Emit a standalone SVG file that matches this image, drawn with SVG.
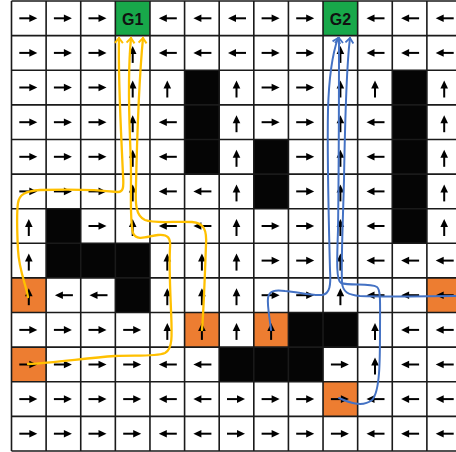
<svg xmlns="http://www.w3.org/2000/svg" xmlns:xlink="http://www.w3.org/1999/xlink" width="456" height="452" viewBox="0 0 456 452">
<style>
.ar line{stroke:#000;stroke-width:2}
.ar polygon{fill:#000}
.blk{fill:#050505}
.org{fill:#ED7D31}
.grn{fill:#18A84A}
.grid{stroke:#1a1a1a;stroke-width:1.6;fill:none}
.lbl{font-family:"Liberation Sans",Arial,sans-serif;font-weight:bold;font-size:16px;fill:#111;text-anchor:middle}
.py{fill:none;stroke:#FFC000;stroke-width:2.3;stroke-linecap:round}
.pb{fill:none;stroke:#4472C4;stroke-width:2;stroke-linecap:round}
</style>
<defs>
<g id="R" class="ar"><line x1="-9.5" y1="0" x2="1.5" y2="0"/><polygon points="8.5,0 0.5,-3.8 0.5,3.8"/></g>
<g id="L" class="ar"><line x1="9.5" y1="0" x2="-1.5" y2="0"/><polygon points="-8.5,0 -0.5,-3.8 -0.5,3.8"/></g>
<g id="U" class="ar"><line x1="0" y1="10" x2="0" y2="0"/><polygon points="0,-7 -3.8,1 3.8,1"/></g>
<marker id="my" viewBox="-1 -5 8 10" markerWidth="8" markerHeight="10" refX="5" refY="0" orient="auto" markerUnits="userSpaceOnUse"><path d="M0,-4 L5,0 L0,4" fill="none" stroke="#FFC000" stroke-width="2"/></marker>
<marker id="mb" viewBox="-1 -5 8 10" markerWidth="8" markerHeight="10" refX="5" refY="0" orient="auto" markerUnits="userSpaceOnUse"><path d="M0,-4 L5,0 L0,4" fill="none" stroke="#4472C4" stroke-width="1.8"/></marker>
</defs>
<rect x="0" y="0" width="456" height="452" fill="#fff"/>
<g id="obstacles">
<rect class="blk" x="184.58" y="70.23" width="34.62" height="103.85"/>
<rect class="blk" x="392.27" y="70.23" width="34.62" height="173.08"/>
<rect class="blk" x="253.81" y="139.46" width="34.62" height="69.23"/>
<rect class="blk" x="46.12" y="208.69" width="34.62" height="69.23"/>
<rect class="blk" x="80.73" y="243.31" width="69.23" height="34.62"/>
<rect class="blk" x="115.35" y="277.92" width="34.62" height="34.62"/>
<rect class="blk" x="288.42" y="312.54" width="69.23" height="34.62"/>
<rect class="blk" x="219.19" y="347.15" width="103.85" height="34.62"/>
</g>
<g id="starts">
<rect class="org" x="11.5" y="277.92" width="34.62" height="34.62"/>
<rect class="org" x="426.88" y="277.92" width="34.62" height="34.62"/>
<rect class="org" x="184.58" y="312.54" width="34.62" height="34.62"/>
<rect class="org" x="253.81" y="312.54" width="34.62" height="34.62"/>
<rect class="org" x="11.5" y="347.15" width="34.62" height="34.62"/>
<rect class="org" x="323.04" y="381.77" width="34.62" height="34.62"/>
</g>
<g id="G1"><rect class="grn" x="115.35" y="1" width="34.62" height="34.62"/></g>
<g id="G2"><rect class="grn" x="323.04" y="1" width="34.62" height="34.62"/></g>
<path class="grid" d="M11.5,1V451M46.12,1V451M80.73,1V451M115.35,1V451M149.96,1V451M184.58,1V451M219.19,1V451M253.81,1V451M288.42,1V451M323.04,1V451M357.65,1V451M392.27,1V451M426.88,1V451
M11.5,1H456M11.5,35.62H456M11.5,70.23H456M11.5,104.85H456M11.5,139.46H456M11.5,174.08H456M11.5,208.69H456M11.5,243.31H456M11.5,277.92H456M11.5,312.54H456M11.5,347.15H456M11.5,381.77H456M11.5,416.38H456M11.5,451H456"/>
<text class="lbl" x="132.7" y="24.5">G1</text>
<text class="lbl" x="340.4" y="24.5">G2</text>
<g id="policy">
<!-- r0 -->
<use href="#R" x="28.8" y="18.3"/><use href="#R" x="63.4" y="18.3"/><use href="#R" x="98" y="18.3"/>
<use href="#L" x="167.3" y="18.3"/><use href="#L" x="201.9" y="18.3"/><use href="#L" x="236.5" y="18.3"/>
<use href="#R" x="271.1" y="18.3"/><use href="#R" x="305.7" y="18.3"/>
<use href="#L" x="375" y="18.3"/><use href="#L" x="409.6" y="18.3"/><use href="#L" x="444.2" y="18.3"/>
<!-- r1 -->
<use href="#R" x="28.8" y="52.9"/><use href="#R" x="63.4" y="52.9"/><use href="#R" x="98" y="52.9"/><use href="#U" x="132.7" y="52.9"/>
<use href="#L" x="167.3" y="52.9"/><use href="#L" x="201.9" y="52.9"/><use href="#L" x="236.5" y="52.9"/>
<use href="#R" x="271.1" y="52.9"/><use href="#R" x="305.7" y="52.9"/><use href="#U" x="340.4" y="52.9"/>
<use href="#L" x="375" y="52.9"/><use href="#L" x="409.6" y="52.9"/><use href="#L" x="444.2" y="52.9"/>
<!-- r2 -->
<use href="#R" x="28.8" y="87.5"/><use href="#R" x="63.4" y="87.5"/><use href="#R" x="98" y="87.5"/><use href="#U" x="132.7" y="87.5"/>
<use href="#U" x="167.3" y="87.5"/><use href="#U" x="236.5" y="87.5"/>
<use href="#R" x="271.1" y="87.5"/><use href="#R" x="305.7" y="87.5"/><use href="#U" x="340.4" y="87.5"/>
<use href="#U" x="375" y="87.5"/><use href="#U" x="444.2" y="87.5"/>
<!-- r3 -->
<use href="#R" x="28.8" y="122.2"/><use href="#R" x="63.4" y="122.2"/><use href="#R" x="98" y="122.2"/><use href="#U" x="132.7" y="122.2"/>
<use href="#L" x="167.3" y="122.2"/><use href="#U" x="236.5" y="122.2"/>
<use href="#R" x="271.1" y="122.2"/><use href="#R" x="305.7" y="122.2"/><use href="#U" x="340.4" y="122.2"/>
<use href="#L" x="375" y="122.2"/><use href="#U" x="444.2" y="122.2"/>
<!-- r4 -->
<use href="#R" x="28.8" y="156.8"/><use href="#R" x="63.4" y="156.8"/><use href="#R" x="98" y="156.8"/><use href="#U" x="132.7" y="156.8"/>
<use href="#L" x="167.3" y="156.8"/><use href="#U" x="236.5" y="156.8"/>
<use href="#R" x="305.7" y="156.8"/><use href="#U" x="340.4" y="156.8"/>
<use href="#L" x="375" y="156.8"/><use href="#U" x="444.2" y="156.8"/>
<!-- r5 -->
<use href="#R" x="28.8" y="191.4"/><use href="#R" x="63.4" y="191.4"/><use href="#R" x="98" y="191.4"/><use href="#U" x="132.7" y="191.4"/>
<use href="#L" x="167.3" y="191.4"/><use href="#L" x="201.9" y="191.4"/><use href="#U" x="236.5" y="191.4"/>
<use href="#R" x="305.7" y="191.4"/><use href="#U" x="340.4" y="191.4"/>
<use href="#L" x="375" y="191.4"/><use href="#U" x="444.2" y="191.4"/>
<!-- r6 -->
<use href="#U" x="28.8" y="226"/><use href="#R" x="98" y="226"/><use href="#U" x="132.7" y="226"/>
<use href="#L" x="167.3" y="226"/><use href="#L" x="201.9" y="226"/><use href="#U" x="236.5" y="226"/>
<use href="#R" x="271.1" y="226"/><use href="#R" x="305.7" y="226"/><use href="#U" x="340.4" y="226"/>
<use href="#L" x="375" y="226"/><use href="#U" x="444.2" y="226"/>
<!-- r7 -->
<use href="#U" x="28.8" y="260.6"/>
<use href="#U" x="167.3" y="260.6"/><use href="#U" x="201.9" y="260.6"/><use href="#U" x="236.5" y="260.6"/>
<use href="#R" x="271.1" y="260.6"/><use href="#R" x="305.7" y="260.6"/><use href="#U" x="340.4" y="260.6"/>
<use href="#L" x="375" y="260.6"/><use href="#L" x="409.6" y="260.6"/><use href="#L" x="444.2" y="260.6"/>
<!-- r8 -->
<use href="#U" x="28.8" y="295.2"/><use href="#L" x="63.4" y="295.2"/><use href="#L" x="98" y="295.2"/>
<use href="#U" x="167.3" y="295.2"/><use href="#U" x="201.9" y="295.2"/><use href="#U" x="236.5" y="295.2"/>
<use href="#R" x="271.1" y="295.2"/><use href="#R" x="305.7" y="295.2"/><use href="#U" x="340.4" y="295.2"/>
<use href="#L" x="375" y="295.2"/><use href="#L" x="409.6" y="295.2"/><use href="#L" x="444.2" y="295.2"/>
<!-- r9 -->
<use href="#R" x="28.8" y="329.9"/><use href="#R" x="63.4" y="329.9"/><use href="#R" x="98" y="329.9"/><use href="#R" x="132.7" y="329.9"/>
<use href="#U" x="167.3" y="329.9"/><use href="#U" x="201.9" y="329.9"/><use href="#U" x="236.5" y="329.9"/><use href="#U" x="271.1" y="329.9"/>
<use href="#U" x="375" y="329.9"/><use href="#L" x="409.6" y="329.9"/><use href="#L" x="444.2" y="329.9"/>
<!-- r10 -->
<use href="#R" x="28.8" y="364.5"/><use href="#R" x="63.4" y="364.5"/><use href="#R" x="98" y="364.5"/><use href="#R" x="132.7" y="364.5"/>
<use href="#L" x="167.3" y="364.5"/><use href="#L" x="201.9" y="364.5"/>
<use href="#R" x="340.4" y="364.5"/><use href="#U" x="375" y="364.5"/><use href="#L" x="409.6" y="364.5"/><use href="#L" x="444.2" y="364.5"/>
<!-- r11 -->
<use href="#R" x="28.8" y="399.1"/><use href="#R" x="63.4" y="399.1"/><use href="#R" x="98" y="399.1"/><use href="#R" x="132.7" y="399.1"/>
<use href="#L" x="167.3" y="399.1"/><use href="#L" x="201.9" y="399.1"/>
<use href="#R" x="236.5" y="399.1"/><use href="#R" x="271.1" y="399.1"/><use href="#R" x="305.7" y="399.1"/><use href="#R" x="340.4" y="399.1"/>
<use href="#L" x="375" y="399.1"/><use href="#L" x="409.6" y="399.1"/><use href="#L" x="444.2" y="399.1"/>
<!-- r12 -->
<use href="#R" x="28.8" y="433.7"/><use href="#R" x="63.4" y="433.7"/><use href="#R" x="98" y="433.7"/><use href="#R" x="132.7" y="433.7"/>
<use href="#L" x="167.3" y="433.7"/><use href="#L" x="201.9" y="433.7"/>
<use href="#R" x="236.5" y="433.7"/><use href="#R" x="271.1" y="433.7"/><use href="#R" x="305.7" y="433.7"/><use href="#R" x="340.4" y="433.7"/>
<use href="#L" x="375" y="433.7"/><use href="#L" x="409.6" y="433.7"/><use href="#L" x="444.2" y="433.7"/>
</g>
<g id="connectors">
<path class="py" marker-end="url(#my)" d="M28,297 C26,285 19,270 18,250 C17,230 17,210 18,203 C19,195 25,191 40,190 C70,189 100,190 118,192 C123,192 124,188 123,175 C121,130 118,80 119,38"/>
<path class="py" marker-end="url(#my)" d="M28,364 C55,363 85,358 115,356 C135,355 155,357 165,353 C173,349 172,335 171,310 C170,285 169,265 170,248 C171,238 168,234 158,235 C148,236 137,242 133,233 C130,222 131,200 131,175 C131,140 126,90 131,38"/>
<path class="py" marker-end="url(#my)" d="M202,330 C204,305 205,270 206,245 C207,230 204,223 192,222 C175,221 155,224 145,220 C136,216 135,205 136,185 C137,140 139,80 143,38"/>
<path class="pb" marker-end="url(#mb)" d="M271,330 C270,320 267,305 268,298 C269,290 276,290 285,291 C298,292 312,296 322,295 C330,294 331,285 330,270 C329,230 327,160 328,110 C329,75 332,55 338,38"/>
<path class="pb" marker-end="url(#mb)" d="M339,398 C348,402 362,408 372,400 C380,392 380,360 380,330 C380,305 381,290 377,287 C370,283 350,286 341,283 C336,280 337,260 338,230 C339,160 339,90 339,38"/>
<path class="pb" marker-end="url(#mb)" d="M456,296 C430,296 390,297 360,296 C348,295 343,292 342,283 C341,260 343,220 344,180 C345,120 346,70 350,38"/>
</g>
</svg>
